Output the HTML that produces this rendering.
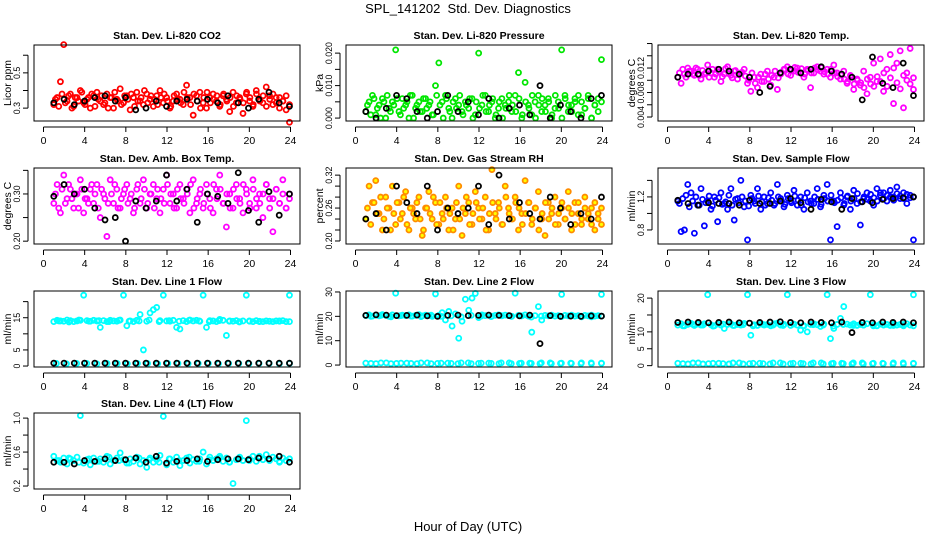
<!DOCTYPE html>
<html><head><meta charset="utf-8"><style>
html,body{margin:0;padding:0;background:#fff;}
svg{display:block;font-family:"Liberation Sans",Arial,sans-serif;}
</style></head><body>
<svg id="chart" width="936" height="540" viewBox="0 0 936 540" xmlns="http://www.w3.org/2000/svg">
<rect width="936" height="540" fill="#fff"/>
<text x="468" y="13" text-anchor="middle" font-size="13">SPL_141202&#160;&#160;Std. Dev. Diagnostics</text>
<text x="468" y="531" text-anchor="middle" font-size="13">Hour of Day (UTC)</text>
</svg>
<script>
const xTicks=[0,4,8,12,16,20,24];
const co2Red=[0.32,0.36,0.45,0.66,0.34,0.38,0.31,0.36,0.40,0.33,0.35,0.30,0.37,0.39,0.34,0.32,0.38,0.36,0.30,0.35,0.41,0.33,0.37,0.29,0.36,0.39,0.34,0.32,0.38,0.35,0.31,0.37,0.40,0.33,0.36,0.30,0.34,0.38,0.35,0.32,0.43,0.36,0.26,0.37,0.39,0.33,0.30,0.36,0.38,0.34,0.31,0.37,0.35,0.28,0.39,0.33,0.36,0.27,0.38,0.34,0.31,0.40,0.35,0.33,0.42,0.37,0.32,0.36,0.30,0.34,0.29,0.22];
const co2Red2=[0.35,0.31,0.38,0.33,0.37,0.30,0.36,0.34,0.39,0.32,0.36,0.38,0.31,0.35,0.37,0.33,0.30,0.36,0.39,0.34,0.32,0.37,0.35,0.38,0.31,0.34,0.36,0.40,0.33,0.37,0.35,0.32,0.36,0.38,0.34,0.31,0.37,0.35,0.33,0.39,0.36,0.32,0.38,0.34,0.30,0.36,0.39,0.33,0.35,0.37,0.32,0.38,0.34,0.36,0.31,0.37,0.35,0.33,0.39,0.36,0.32,0.38,0.34,0.37,0.31,0.35,0.38,0.33,0.36,0.34,0.37,0.32];
const co2Black=[0.33,0.35,0.32,0.34,0.36,0.37,0.34,0.36,0.29,0.30,0.34,0.31,0.34,0.35,0.34,0.35,0.33,0.37,0.33,0.30,0.35,0.39,0.33,0.31];
const presGreen=[0.002,0.005,0.007,0.001,0.004,0.006,0.000,0.003,0.005,0.021,0.002,0.006,0.004,0.000,0.007,0.003,0.005,0.002,0.006,0.004,0.001,0.010,0.017,0.005,0.007,0.003,0.000,0.006,0.004,0.002,0.005,0.003,0.006,0.001,0.020,0.004,0.007,0.002,0.005,0.000,0.003,0.006,0.004,0.005,0.002,0.007,0.014,0.000,0.011,0.004,0.001,0.005,0.007,0.002,0.004,0.006,0.000,0.003,0.005,0.021,0.007,0.002,0.004,0.006,0.001,0.005,0.003,0.007,0.000,0.004,0.006,0.018];
const presGreen2=[0.004,0.001,0.006,0.003,0.000,0.005,0.007,0.002,0.004,0.006,0.001,0.003,0.005,0.007,0.000,0.004,0.002,0.006,0.003,0.005,0.001,0.007,0.004,0.000,0.006,0.002,0.005,0.003,0.007,0.001,0.004,0.006,0.000,0.005,0.003,0.007,0.002,0.004,0.006,0.001,0.005,0.000,0.003,0.007,0.004,0.002,0.006,0.001,0.005,0.003,0.007,0.000,0.004,0.006,0.002,0.005,0.001,0.007,0.003,0.000,0.006,0.004,0.002,0.005,0.007,0.001,0.003,0.006,0.000,0.004,0.002,0.005];
const presBlack=[0.002,0.000,0.003,0.007,0.006,0.002,0.000,0.002,0.007,0.002,0.005,0.001,0.006,0.000,0.003,0.004,0.001,0.010,0.000,0.004,0.002,0.000,0.006,0.007];
const tempMag=[0.0105,0.0095,0.011,0.012,0.0115,0.0108,0.0118,0.0102,0.011,0.0125,0.0112,0.0105,0.0118,0.0098,0.011,0.0122,0.0108,0.0115,0.0102,0.0112,0.0118,0.0095,0.0082,0.0105,0.0088,0.011,0.0098,0.0115,0.0092,0.0105,0.0085,0.011,0.0118,0.0122,0.0108,0.0115,0.012,0.0112,0.0105,0.0118,0.0088,0.0112,0.0122,0.0115,0.011,0.0118,0.0105,0.0125,0.0112,0.0102,0.0115,0.0095,0.0108,0.0085,0.0102,0.0092,0.0115,0.0078,0.0105,0.0128,0.0098,0.0135,0.0082,0.0118,0.0142,0.0062,0.0128,0.0148,0.0055,0.0112,0.0152,0.0085];
const tempMag2=[0.0112,0.0118,0.0105,0.0115,0.0110,0.0120,0.0108,0.0116,0.0112,0.0105,0.0118,0.0110,0.0114,0.0106,0.0119,0.0111,0.0104,0.0116,0.0109,0.0113,0.0107,0.0100,0.0112,0.0095,0.0105,0.0098,0.0110,0.0102,0.0108,0.0115,0.0104,0.0112,0.0118,0.0110,0.0116,0.0121,0.0113,0.0119,0.0110,0.0116,0.0112,0.0120,0.0117,0.0121,0.0114,0.0110,0.0118,0.0112,0.0106,0.0110,0.0102,0.0098,0.0106,0.0094,0.0100,0.0096,0.0088,0.0102,0.0094,0.0090,0.0106,0.0098,0.0112,0.0090,0.0104,0.0120,0.0096,0.0086,0.0108,0.0100,0.0094,0.0104];
const tempBlack=[0.0105,0.011,0.011,0.0115,0.0118,0.0115,0.011,0.0105,0.008,0.009,0.0112,0.0118,0.0112,0.0118,0.0122,0.0115,0.011,0.0105,0.0068,0.0138,0.0095,0.0088,0.0128,0.0075];
const ambMag=[0.28,0.32,0.26,0.34,0.29,0.31,0.27,0.30,0.33,0.26,0.29,0.31,0.28,0.32,0.25,0.30,0.21,0.33,0.28,0.31,0.27,0.30,0.32,0.29,0.26,0.31,0.28,0.33,0.27,0.30,0.32,0.29,0.26,0.31,0.34,0.28,0.30,0.27,0.32,0.29,0.31,0.26,0.33,0.28,0.30,0.27,0.32,0.29,0.26,0.31,0.34,0.28,0.23,0.30,0.27,0.32,0.29,0.26,0.31,0.28,0.33,0.27,0.30,0.25,0.32,0.29,0.22,0.31,0.28,0.33,0.27,0.30];
const ambMag2=[0.30,0.27,0.31,0.28,0.32,0.29,0.30,0.27,0.31,0.29,0.28,0.32,0.30,0.27,0.31,0.29,0.28,0.30,0.32,0.27,0.29,0.31,0.28,0.30,0.27,0.32,0.29,0.31,0.28,0.30,0.27,0.31,0.29,0.28,0.32,0.30,0.27,0.31,0.29,0.28,0.30,0.32,0.27,0.29,0.31,0.28,0.30,0.27,0.32,0.29,0.31,0.28,0.30,0.27,0.31,0.29,0.28,0.32,0.30,0.27,0.31,0.29,0.28,0.30,0.32,0.27,0.29,0.31,0.28,0.30,0.27,0.29];
const ambBlack=[0.295,0.32,0.30,0.31,0.27,0.245,0.25,0.20,0.285,0.27,0.285,0.34,0.285,0.31,0.24,0.30,0.295,0.28,0.345,0.265,0.24,0.305,0.255,0.30];
const rhOrange=[0.24,0.30,0.27,0.31,0.25,0.22,0.28,0.26,0.30,0.23,0.27,0.25,0.29,0.22,0.26,0.24,0.28,0.21,0.26,0.29,0.24,0.27,0.23,0.25,0.28,0.22,0.26,0.24,0.30,0.21,0.25,0.27,0.23,0.29,0.26,0.24,0.28,0.22,0.33,0.25,0.27,0.23,0.30,0.26,0.24,0.28,0.22,0.25,0.31,0.27,0.23,0.26,0.29,0.24,0.21,0.27,0.25,0.28,0.23,0.26,0.24,0.29,0.22,0.27,0.25,0.23,0.28,0.24,0.26,0.22,0.25,0.23];
const rhOrange2=[0.26,0.23,0.27,0.25,0.28,0.24,0.26,0.22,0.25,0.27,0.24,0.28,0.23,0.26,0.25,0.27,0.24,0.22,0.26,0.25,0.28,0.23,0.27,0.24,0.26,0.25,0.22,0.27,0.24,0.26,0.28,0.23,0.25,0.27,0.24,0.26,0.22,0.25,0.27,0.24,0.26,0.23,0.28,0.25,0.24,0.27,0.26,0.23,0.25,0.27,0.24,0.26,0.22,0.25,0.27,0.24,0.26,0.23,0.25,0.27,0.24,0.26,0.25,0.23,0.27,0.24,0.26,0.25,0.23,0.27,0.24,0.26];
const rhBlack=[0.24,0.25,0.22,0.30,0.27,0.25,0.30,0.22,0.26,0.25,0.26,0.30,0.23,0.32,0.24,0.27,0.25,0.24,0.28,0.26,0.23,0.25,0.24,0.28];
const flowBlue=[1.15,0.78,0.80,1.35,1.25,0.76,1.10,1.30,0.85,1.15,1.05,1.20,0.90,1.25,1.12,1.05,1.30,0.92,1.18,1.40,1.08,0.68,1.22,1.15,1.30,1.05,1.20,1.12,1.25,1.10,1.35,1.18,1.08,1.22,1.15,1.28,1.10,1.20,1.05,1.25,1.15,1.12,1.30,1.08,1.22,1.35,0.68,1.15,0.84,1.25,1.10,1.20,1.05,1.28,1.12,0.86,1.18,1.25,1.15,1.10,1.30,1.22,1.25,1.15,1.28,1.20,1.32,1.18,1.25,1.12,1.22,0.68];
const flowBlue2=[1.12,1.18,1.22,1.08,1.15,1.20,1.10,1.17,1.13,1.21,1.09,1.16,1.19,1.11,1.14,1.22,1.10,1.17,1.13,1.20,1.15,1.09,1.18,1.12,1.21,1.14,1.10,1.19,1.16,1.12,1.20,1.15,1.11,1.18,1.13,1.21,1.16,1.10,1.19,1.14,1.12,1.20,1.17,1.11,1.18,1.15,1.22,1.13,1.16,1.19,1.12,1.21,1.15,1.18,1.24,1.14,1.20,1.17,1.23,1.19,1.15,1.25,1.18,1.22,1.20,1.16,1.24,1.21,1.18,1.23,1.19,1.20];
const flowBlack=[1.16,1.12,1.10,1.13,1.12,1.12,1.10,1.16,1.12,1.12,1.15,1.18,1.13,1.05,1.17,1.14,1.05,1.18,1.14,1.13,1.17,1.18,1.19,1.20];
const line1Cyan=[13.8,14.2,14.0,13.9,14.3,14.1,13.8,14.0,14.2,22,14.1,13.9,14.2,14.0,12.0,14.1,13.8,14.2,14.0,13.9,14.3,22,12.5,14.0,13.8,14.2,16.0,5.0,13.9,16.5,17.5,18.2,14.1,22,14.0,13.9,14.2,12.0,11.5,14.1,13.8,14.3,14.0,14.2,13.9,22,12.0,14.1,14.0,13.8,14.5,14.2,9.5,14.0,13.9,14.1,13.8,14.0,22,13.9,13.8,14.1,13.9,13.8,14.0,13.9,13.8,14.0,13.9,14.1,13.8,22];
const line1Cyan2=[14.0,13.7,14.3,13.9,14.1,13.8,14.2,13.9,14.0,14.3,13.8,14.1,13.9,14.2,14.0,13.8,14.1,13.9,13.7,14.0,13.8,13.9,14.0,13.8];
const line1Low=[0.8,0.7,0.8,0.8,0.7,0.8,0.8,0.7,0.8,0.8,0.7,0.8,0.8,0.7,0.8,0.8,0.7,0.8,0.8,0.7,0.8,0.8,0.7,0.8];
const line1Black=[0.9,0.9,0.9,0.9,0.9,0.9,0.9,0.9,0.9,0.9,0.9,0.9,0.9,0.9,0.9,0.9,0.9,0.9,0.9,0.9,0.9,0.9,0.9,0.9];
const line2Cyan=[20.3,20.6,20.1,20.5,20.2,20.7,20.4,20.0,20.6,29.5,20.2,20.5,20.3,20.6,20.1,20.4,20.7,20.2,20.5,20.3,20.0,29.2,20.4,21.5,18.5,22.0,16.0,21.0,11.0,18.0,27.0,22.5,27.5,29.4,19.5,20.6,20.3,20.5,20.1,20.4,20.6,20.2,20.5,20.3,20.0,29.5,20.4,20.2,20.6,20.1,13.5,20.3,24.0,18.5,20.4,20.2,20.5,20.1,20.3,29.0,20.4,20.2,20.5,20.1,20.3,19.8,20.4,20.2,20.5,20.1,20.3,29.0];
const line2Cyan2=[20.0,20.4,19.8,20.3,20.1,19.9,20.5,20.0,20.2,19.8,20.4,20.1,19.9,20.3,20.0,20.2,19.7,20.1,20.3,19.9,20.2,20.0,19.8,20.1];
const line2Low=[0.8,0.6,0.9,0.7,0.8,0.6,0.9,0.7,0.8,0.6,0.9,0.7,0.8,0.6,0.9,0.7,0.8,0.6,0.9,0.7,0.8,0.6,0.9,0.7];
const line2Low2=[0.7,0.9,0.6,0.8,0.7,0.9,0.6,0.8,0.7,0.9,0.6,0.8,0.7,0.9,0.6,0.8,0.7,0.9,0.6,0.8,0.7,0.9,0.6,0.8];
const line2Black=[20.4,20.6,20.5,20.3,20.4,20.5,20.2,20.0,20.4,20.5,20.3,20.4,20.5,20.4,20.3,20.2,20.5,8.8,20.3,20.0,20.1,20.0,20.2,20.1];
const line3Cyan=[12.0,12.4,11.8,12.2,12.5,11.9,12.3,12.0,12.4,21.0,12.1,11.8,12.3,12.0,11.0,12.2,12.4,11.9,12.2,12.0,12.5,21.0,9.0,12.1,11.9,12.3,12.0,12.2,11.8,12.4,12.6,12.0,12.2,21.0,11.9,12.3,12.0,10.5,11.8,10.0,12.2,12.4,12.1,11.6,12.3,21.0,8.0,11.0,12.2,14.0,17.5,12.3,12.0,12.4,11.9,12.2,12.0,12.4,21.0,12.1,11.8,12.3,12.0,12.2,11.9,12.3,12.0,12.2,11.8,12.4,12.0,21.0];
const line3Cyan2=[11.8,12.2,12.0,11.7,12.3,11.9,12.1,11.8,12.2,12.0,11.9,12.3,11.8,12.1,12.0,11.7,12.2,11.9,12.0,11.8,12.1,11.9,12.2,11.8];
const line3Low=[0.7,0.5,0.8,0.6,0.7,0.5,0.8,0.6,0.7,0.5,0.8,0.6,0.7,0.5,0.8,0.6,0.7,0.5,0.8,0.6,0.7,0.5,0.8,0.6];
const line3Low2=[0.6,0.8,0.5,0.7,0.6,0.8,0.5,0.7,0.6,0.8,0.5,0.7,0.6,0.8,0.5,0.7,0.6,0.8,0.5,0.7,0.6,0.8,0.5,0.7];
const line3Black=[12.8,12.9,12.8,12.7,12.8,12.9,12.7,12.6,12.8,12.9,13.0,12.8,12.7,12.9,12.8,12.7,12.9,9.8,12.8,12.7,12.9,12.8,12.9,12.7];
const line4Cyan=[0.55,0.50,0.48,0.53,0.46,0.52,0.50,0.54,1.03,0.47,0.51,0.45,0.53,0.49,0.52,0.48,0.55,0.46,0.50,0.53,0.59,0.51,0.47,0.52,0.49,0.54,0.46,0.50,0.42,0.53,0.48,0.51,0.56,1.02,0.45,0.52,0.48,0.54,0.44,0.50,0.53,0.47,0.51,0.49,0.52,0.60,0.46,0.54,0.50,0.52,0.55,0.49,0.53,0.48,0.23,0.51,0.54,0.50,0.97,0.52,0.55,0.49,0.53,0.51,0.57,0.50,0.54,0.52,0.48,0.53,0.50,0.52];
const line4Cyan2=[0.50,0.53,0.48,0.52,0.49,0.54,0.50,0.47,0.53,0.51,0.48,0.52,0.50,0.54,0.49,0.51,0.53,0.48,0.52,0.50,0.55,0.51,0.49,0.52];
const line4Black=[0.48,0.48,0.46,0.50,0.49,0.52,0.50,0.51,0.53,0.48,0.55,0.47,0.49,0.50,0.52,0.49,0.51,0.52,0.52,0.51,0.53,0.52,0.55,0.48];

const panels=[
 {name:"co2",title:"Stan. Dev. Li-820 CO2",ylab:"Licor ppm",col:0,row:0,ymin:0.227,ymax:0.658,yticks:[0.3,0.4,0.5,0.6],ylabels:["0.3","","0.5",""],series:[[co2Red,"#ff0000","none",0],[co2Red2,"#ff0000","none",0.16],[co2Black,"#000","none",0]]},
 {name:"pressure",title:"Stan. Dev. Li-820 Pressure",ylab:"kPa",col:1,row:0,ymin:-0.0009,ymax:0.0225,yticks:[0,0.005,0.01,0.015,0.02],ylabels:["0.000","","0.010","","0.020"],series:[[presGreen,"#00e600","none",0],[presGreen2,"#00e600","none",0.16],[presBlack,"#000","none",0]]},
 {name:"temp",title:"Stan. Dev. Li-820 Temp.",ylab:"degrees C",col:2,row:0,ymin:0.00335,ymax:0.01576,yticks:[0.004,0.006,0.008,0.010,0.012,0.014,0.016],ylabels:["0.004","","0.008","","0.012","",""],series:[[tempMag,"#ff00ff","none",0],[tempMag2,"#ff00ff","none",0.16],[tempBlack,"#000","none",0]]},
 {name:"amb-box-temp",title:"Stan. Dev. Amb. Box Temp.",ylab:"degrees C",col:0,row:1,ymin:0.194,ymax:0.355,yticks:[0.2,0.25,0.3,0.35],ylabels:["0.20","","0.30",""],series:[[ambMag,"#ff00ff","none",0],[ambMag2,"#ff00ff","none",0.16],[ambBlack,"#000","none",0]]},
 {name:"gas-rh",title:"Stan. Dev. Gas Stream RH",ylab:"percent",col:1,row:1,ymin:0.1945,ymax:0.333,yticks:[0.2,0.22,0.24,0.26,0.28,0.3,0.32],ylabels:["0.20","","","0.26","","","0.32"],series:[[rhOrange,"#ff8c00","#ffff00",0],[rhOrange2,"#ff8c00","#ffff00",0.16],[rhBlack,"#000","none",0]]},
 {name:"sample-flow",title:"Stan. Dev. Sample Flow",ylab:"ml/min",col:2,row:1,ymin:0.63,ymax:1.55,yticks:[0.8,1.0,1.2,1.4],ylabels:["0.8","","1.2",""],series:[[flowBlue,"#0000ff","none",0],[flowBlue2,"#0000ff","none",0.16],[flowBlack,"#000","none",0]]},
 {name:"line1-flow",title:"Stan. Dev. Line 1 Flow",ylab:"ml/min",col:0,row:2,ymin:-0.3,ymax:23.3,yticks:[0,5,10,15,20],ylabels:["0","5","","15",""],series:[[line1Cyan,"#00ffff","none",0],[line1Cyan2,"#00ffff","none",0.5],[line1Low,"#00ffff","none",0.25],[line1Black,"#000","none",0]]},
 {name:"line2-flow",title:"Stan. Dev. Line 2 Flow",ylab:"ml/min",col:1,row:2,ymin:-0.8,ymax:30.4,yticks:[0,10,20,30],ylabels:["0","10","20","30"],series:[[line2Cyan,"#00ffff","none",0],[line2Cyan2,"#00ffff","none",0.5],[line2Low,"#00ffff","none",0],[line2Low2,"#00ffff","none",0.5],[line2Black,"#000","none",0]]},
 {name:"line3-flow",title:"Stan. Dev. Line 3 Flow",ylab:"ml/min",col:2,row:2,ymin:-0.4,ymax:22.1,yticks:[0,5,10,15,20],ylabels:["0","5","10","","20"],series:[[line3Cyan,"#00ffff","none",0],[line3Cyan2,"#00ffff","none",0.5],[line3Low,"#00ffff","none",0],[line3Low2,"#00ffff","none",0.5],[line3Black,"#000","none",0]]},
 {name:"line4-flow",title:"Stan. Dev. Line 4 (LT) Flow",ylab:"ml/min",col:0,row:3,ymin:0.165,ymax:1.06,yticks:[0.2,0.4,0.6,0.8,1.0],ylabels:["0.2","","0.6","","1.0"],series:[[line4Cyan,"#00ffff","none",0],[line4Cyan2,"#00ffff","none",0.5],[line4Black,"#000","none",0]]}
];
const NS="http://www.w3.org/2000/svg";
const svg=document.getElementById("chart");
const colLeft=[34,346,658], rowTop=[45,168,291,413], W=266, H=76;
function mk(tag,attrs,parent){const e=document.createElementNS(NS,tag);for(const k in attrs)e.setAttribute(k,attrs[k]);parent.appendChild(e);return e;}
panels.forEach(p=>{
  const L=colLeft[p.col],T=rowTop[p.row];
  const g=mk("g",{},svg);
  
  
  const xs=v=>L+9.5+v*(W-19)/24;
  const ys=v=>T+H-(v-p.ymin)/(p.ymax-p.ymin)*H;
  const t=mk("text",{x:L+W/2,y:T-6,"text-anchor":"middle","font-size":"10.5","font-weight":"bold"},g);
  t.textContent=p.title;
  
  
  const yl=mk("text",{transform:`translate(${L-23},${T+H/2}) rotate(-90)`,"text-anchor":"middle","font-size":"10.5"},g);
  yl.textContent=p.ylab;
  
  
  p.series.forEach(s=>{
    const vals=s[0],n=vals.length;
    vals.forEach((v,i)=>{
      const xv=1+s[3]+i*((22.9-s[3])/(n-1));
      const c=mk("circle",{cx:xs(xv),cy:ys(v),r:2.5,fill:s[2],stroke:s[1],"stroke-width":1.8},g);
      
      
    });
  });
  const box=mk("rect",{x:L,y:T,width:W,height:H,fill:"none",stroke:"#000","stroke-width":1},g);
  
  
  const by=T+H;
  mk("line",{x1:xs(0),x2:xs(24),y1:by+6,y2:by+6,stroke:"#000"},g);
  xTicks.forEach(v=>{
    mk("line",{x1:xs(v),x2:xs(v),y1:by+6,y2:by+11,stroke:"#000"},g);
    const tl=mk("text",{x:xs(v),y:by+23,"text-anchor":"middle","font-size":"10.5"},g);
    tl.textContent=v;
    
    
  });
  const ax=L-6;
  mk("line",{x1:ax,x2:ax,y1:ys(p.yticks[0]),y2:ys(p.yticks[p.yticks.length-1]),stroke:"#000"},g);
  p.yticks.forEach((v,i)=>{
    mk("line",{x1:ax-5,x2:ax,y1:ys(v),y2:ys(v),stroke:"#000"},g);
    if(p.ylabels[i]){
      const tl=mk("text",{transform:`translate(${ax-8},${ys(v)}) rotate(-90)`,"text-anchor":"middle","font-size":"8.8"},g);
      tl.textContent=p.ylabels[i];
      
      
    }
  });
});
</script>
</body></html>
